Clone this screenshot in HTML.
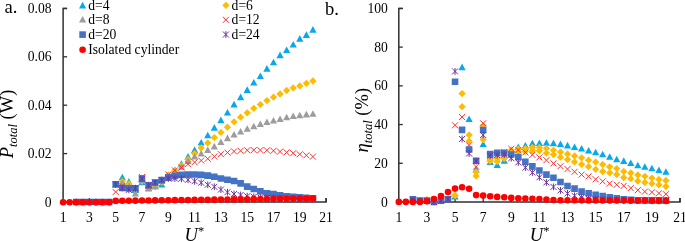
<!DOCTYPE html>
<html><head><meta charset="utf-8"><style>
html,body{margin:0;padding:0;background:#fff;}
body{width:685px;height:241px;overflow:hidden;font-family:"Liberation Serif",serif;}
svg{display:block;}
#w{will-change:transform;width:685px;height:241px;}
</style></head><body><div id="w">
<svg width="685" height="241" viewBox="0 0 685 241">
<path d="M67.10,8.40H63.10V202.00H326.10V198.00" stroke="#303030" stroke-width="1.5" fill="none"/>
<path d="M63.10,153.60H67.10" stroke="#303030" stroke-width="1.3"/>
<path d="M63.10,105.20H67.10" stroke="#303030" stroke-width="1.3"/>
<path d="M63.10,56.80H67.10" stroke="#303030" stroke-width="1.3"/>
<path d="M63.10,8.40H67.10" stroke="#303030" stroke-width="1.3"/>
<path d="M89.40,202.00V198.00" stroke="#303030" stroke-width="1.3"/>
<path d="M115.70,202.00V198.00" stroke="#303030" stroke-width="1.3"/>
<path d="M142.00,202.00V198.00" stroke="#303030" stroke-width="1.3"/>
<path d="M168.30,202.00V198.00" stroke="#303030" stroke-width="1.3"/>
<path d="M194.60,202.00V198.00" stroke="#303030" stroke-width="1.3"/>
<path d="M220.90,202.00V198.00" stroke="#303030" stroke-width="1.3"/>
<path d="M247.20,202.00V198.00" stroke="#303030" stroke-width="1.3"/>
<path d="M273.50,202.00V198.00" stroke="#303030" stroke-width="1.3"/>
<path d="M299.80,202.00V198.00" stroke="#303030" stroke-width="1.3"/>
<path d="M326.10,202.00V198.00" stroke="#303030" stroke-width="1.3"/>
<path d="M402.80,8.40H398.80V202.00H680.00V198.00" stroke="#303030" stroke-width="1.5" fill="none"/>
<path d="M398.80,163.28H402.80" stroke="#303030" stroke-width="1.3"/>
<path d="M398.80,124.56H402.80" stroke="#303030" stroke-width="1.3"/>
<path d="M398.80,85.84H402.80" stroke="#303030" stroke-width="1.3"/>
<path d="M398.80,47.12H402.80" stroke="#303030" stroke-width="1.3"/>
<path d="M398.80,8.40H402.80" stroke="#303030" stroke-width="1.3"/>
<path d="M426.92,202.00V198.00" stroke="#303030" stroke-width="1.3"/>
<path d="M455.04,202.00V198.00" stroke="#303030" stroke-width="1.3"/>
<path d="M483.16,202.00V198.00" stroke="#303030" stroke-width="1.3"/>
<path d="M511.28,202.00V198.00" stroke="#303030" stroke-width="1.3"/>
<path d="M539.40,202.00V198.00" stroke="#303030" stroke-width="1.3"/>
<path d="M567.52,202.00V198.00" stroke="#303030" stroke-width="1.3"/>
<path d="M595.64,202.00V198.00" stroke="#303030" stroke-width="1.3"/>
<path d="M623.76,202.00V198.00" stroke="#303030" stroke-width="1.3"/>
<path d="M651.88,202.00V198.00" stroke="#303030" stroke-width="1.3"/>
<path d="M680.00,202.00V198.00" stroke="#303030" stroke-width="1.3"/>
<path d="M122.28,173.70L125.88,180.30L118.68,180.30ZM128.85,178.10L132.45,184.70L125.25,184.70ZM135.43,186.40L139.03,193.00L131.83,193.00ZM142.00,178.60L145.60,185.20L138.40,185.20ZM148.58,184.40L152.18,191.00L144.98,191.00ZM155.15,182.40L158.75,189.00L151.55,189.00ZM161.72,180.90L165.32,187.50L158.12,187.50ZM168.30,174.40L171.90,181.00L164.70,181.00ZM174.88,166.60L178.47,173.20L171.28,173.20ZM181.45,160.20L185.05,166.80L177.85,166.80ZM188.03,152.90L191.62,159.50L184.43,159.50ZM194.60,146.30L198.20,152.90L191.00,152.90ZM201.18,139.00L204.78,145.60L197.58,145.60ZM207.75,131.70L211.35,138.30L204.15,138.30ZM214.32,124.10L217.92,130.70L210.72,130.70ZM220.90,116.60L224.50,123.20L217.30,123.20ZM227.47,109.00L231.07,115.60L223.88,115.60ZM234.05,100.80L237.65,107.40L230.45,107.40ZM240.62,93.60L244.22,100.20L237.03,100.20ZM247.20,86.30L250.80,92.90L243.60,92.90ZM253.78,79.00L257.38,85.60L250.18,85.60ZM260.35,72.40L263.95,79.00L256.75,79.00ZM266.93,65.10L270.53,71.70L263.32,71.70ZM273.50,58.70L277.10,65.30L269.90,65.30ZM280.07,51.60L283.68,58.20L276.47,58.20ZM286.65,46.40L290.25,53.00L283.05,53.00ZM293.23,40.90L296.83,47.50L289.62,47.50ZM299.80,35.10L303.40,41.70L296.20,41.70ZM306.38,31.30L309.98,37.90L302.77,37.90ZM312.95,26.10L316.55,32.70L309.35,32.70Z" fill="#07a8ee"/>
<path d="M122.28,177.85L125.93,181.50L122.28,185.15L118.62,181.50ZM128.85,180.15L132.50,183.80L128.85,187.45L125.20,183.80ZM135.43,186.35L139.08,190.00L135.43,193.65L131.78,190.00ZM142.00,177.55L145.65,181.20L142.00,184.85L138.35,181.20ZM148.58,184.35L152.23,188.00L148.58,191.65L144.93,188.00ZM155.15,182.85L158.80,186.50L155.15,190.15L151.50,186.50ZM161.72,178.35L165.38,182.00L161.72,185.65L158.07,182.00ZM168.30,171.35L171.95,175.00L168.30,178.65L164.65,175.00ZM174.88,166.85L178.53,170.50L174.88,174.15L171.22,170.50ZM181.45,161.65L185.10,165.30L181.45,168.95L177.80,165.30ZM188.03,155.85L191.68,159.50L188.03,163.15L184.38,159.50ZM194.60,149.95L198.25,153.60L194.60,157.25L190.95,153.60ZM201.18,144.15L204.83,147.80L201.18,151.45L197.53,147.80ZM207.75,139.25L211.40,142.90L207.75,146.55L204.10,142.90ZM214.32,133.95L217.97,137.60L214.32,141.25L210.67,137.60ZM220.90,128.75L224.55,132.40L220.90,136.05L217.25,132.40ZM227.47,123.55L231.12,127.20L227.47,130.85L223.82,127.20ZM234.05,118.15L237.70,121.80L234.05,125.45L230.40,121.80ZM240.62,113.55L244.28,117.20L240.62,120.85L236.97,117.20ZM247.20,109.15L250.85,112.80L247.20,116.45L243.55,112.80ZM253.78,104.65L257.43,108.30L253.78,111.95L250.12,108.30ZM260.35,100.95L264.00,104.60L260.35,108.25L256.70,104.60ZM266.93,96.95L270.57,100.60L266.93,104.25L263.28,100.60ZM273.50,93.55L277.15,97.20L273.50,100.85L269.85,97.20ZM280.07,90.35L283.72,94.00L280.07,97.65L276.43,94.00ZM286.65,86.85L290.30,90.50L286.65,94.15L283.00,90.50ZM293.23,84.25L296.88,87.90L293.23,91.55L289.58,87.90ZM299.80,82.25L303.45,85.90L299.80,89.55L296.15,85.90ZM306.38,79.65L310.02,83.30L306.38,86.95L302.73,83.30ZM312.95,77.35L316.60,81.00L312.95,84.65L309.30,81.00Z" fill="#ffbb00"/>
<path d="M122.28,179.20L125.88,185.80L118.68,185.80ZM128.85,182.40L132.45,189.00L125.25,189.00ZM135.43,190.00L139.03,196.60L131.83,196.60ZM142.00,176.40L145.60,183.00L138.40,183.00ZM148.58,184.90L152.18,191.50L144.98,191.50ZM155.15,182.90L158.75,189.50L151.55,189.50ZM161.72,177.40L165.32,184.00L158.12,184.00ZM168.30,173.40L171.90,180.00L164.70,180.00ZM174.88,167.90L178.47,174.50L171.28,174.50ZM181.45,163.10L185.05,169.70L177.85,169.70ZM188.03,157.30L191.62,163.90L184.43,163.90ZM194.60,152.90L198.20,159.50L191.00,159.50ZM201.18,150.00L204.78,156.60L197.58,156.60ZM207.75,146.30L211.35,152.90L204.15,152.90ZM214.32,142.80L217.92,149.40L210.72,149.40ZM220.90,138.40L224.50,145.00L217.30,145.00ZM227.47,134.60L231.07,141.20L223.88,141.20ZM234.05,130.90L237.65,137.50L230.45,137.50ZM240.62,127.90L244.22,134.50L237.03,134.50ZM247.20,125.20L250.80,131.80L243.60,131.80ZM253.78,122.70L257.38,129.30L250.18,129.30ZM260.35,120.40L263.95,127.00L256.75,127.00ZM266.93,118.40L270.53,125.00L263.32,125.00ZM273.50,116.90L277.10,123.50L269.90,123.50ZM280.07,115.40L283.68,122.00L276.47,122.00ZM286.65,113.70L290.25,120.30L283.05,120.30ZM293.23,112.50L296.83,119.10L289.62,119.10ZM299.80,111.70L303.40,118.30L296.20,118.30ZM306.38,110.80L309.98,117.40L302.77,117.40ZM312.95,110.20L316.55,116.80L309.35,116.80Z" fill="#9d9d9d"/>
<path d="M112.70,189.00L118.70,195.00M118.70,189.00L112.70,195.00M119.28,183.00L125.28,189.00M125.28,183.00L119.28,189.00M125.85,185.00L131.85,191.00M131.85,185.00L125.85,191.00M132.43,186.00L138.43,192.00M138.43,186.00L132.43,192.00M139.00,174.00L145.00,180.00M145.00,174.00L139.00,180.00M145.58,183.00L151.58,189.00M151.58,183.00L145.58,189.00M152.15,180.00L158.15,186.00M158.15,180.00L152.15,186.00M158.72,177.00L164.72,183.00M164.72,177.00L158.72,183.00M165.30,171.50L171.30,177.50M171.30,171.50L165.30,177.50M171.88,167.40L177.88,173.40M177.88,167.40L171.88,173.40M178.45,164.60L184.45,170.60M184.45,164.60L178.45,170.60M185.03,161.20L191.03,167.20M191.03,161.20L185.03,167.20M191.60,159.20L197.60,165.20M197.60,159.20L191.60,165.20M198.18,157.50L204.18,163.50M204.18,157.50L198.18,163.50M204.75,155.70L210.75,161.70M210.75,155.70L204.75,161.70M211.32,153.50L217.32,159.50M217.32,153.50L211.32,159.50M217.90,151.20L223.90,157.20M223.90,151.20L217.90,157.20M224.47,149.60L230.47,155.60M230.47,149.60L224.47,155.60M231.05,148.40L237.05,154.40M237.05,148.40L231.05,154.40M237.62,147.80L243.62,153.80M243.62,147.80L237.62,153.80M244.20,147.30L250.20,153.30M250.20,147.30L244.20,153.30M250.78,147.10L256.77,153.10M256.77,147.10L250.78,153.10M257.35,147.10L263.35,153.10M263.35,147.10L257.35,153.10M263.93,147.30L269.93,153.30M269.93,147.30L263.93,153.30M270.50,147.80L276.50,153.80M276.50,147.80L270.50,153.80M277.07,148.60L283.07,154.60M283.07,148.60L277.07,154.60M283.65,149.40L289.65,155.40M289.65,149.40L283.65,155.40M290.23,150.20L296.23,156.20M296.23,150.20L290.23,156.20M296.80,151.30L302.80,157.30M302.80,151.30L296.80,157.30M303.38,152.30L309.38,158.30M309.38,152.30L303.38,158.30M309.95,153.60L315.95,159.60M315.95,153.60L309.95,159.60" stroke="#ff2d2d" stroke-width="1" fill="none"/>
<path d="M72.95,198.70h6.60v6.60h-6.60ZM79.53,198.70h6.60v6.60h-6.60ZM86.10,198.70h6.60v6.60h-6.60ZM92.67,198.70h6.60v6.60h-6.60ZM99.25,198.70h6.60v6.60h-6.60ZM105.83,198.70h6.60v6.60h-6.60ZM112.40,181.10h6.60v6.60h-6.60ZM118.98,184.70h6.60v6.60h-6.60ZM125.55,184.90h6.60v6.60h-6.60ZM132.12,184.90h6.60v6.60h-6.60ZM138.70,175.30h6.60v6.60h-6.60ZM145.28,182.00h6.60v6.60h-6.60ZM151.85,179.20h6.60v6.60h-6.60ZM158.42,176.70h6.60v6.60h-6.60ZM165.00,173.90h6.60v6.60h-6.60ZM171.57,172.70h6.60v6.60h-6.60ZM178.15,171.60h6.60v6.60h-6.60ZM184.72,171.20h6.60v6.60h-6.60ZM191.30,171.20h6.60v6.60h-6.60ZM197.88,171.60h6.60v6.60h-6.60ZM204.45,172.30h6.60v6.60h-6.60ZM211.02,173.40h6.60v6.60h-6.60ZM217.60,175.20h6.60v6.60h-6.60ZM224.17,176.50h6.60v6.60h-6.60ZM230.75,177.70h6.60v6.60h-6.60ZM237.32,180.10h6.60v6.60h-6.60ZM243.90,183.30h6.60v6.60h-6.60ZM250.47,185.70h6.60v6.60h-6.60ZM257.05,188.00h6.60v6.60h-6.60ZM263.62,189.90h6.60v6.60h-6.60ZM270.20,190.80h6.60v6.60h-6.60ZM276.77,192.10h6.60v6.60h-6.60ZM283.35,193.00h6.60v6.60h-6.60ZM289.93,193.60h6.60v6.60h-6.60ZM296.50,194.10h6.60v6.60h-6.60ZM303.07,194.50h6.60v6.60h-6.60ZM309.65,194.90h6.60v6.60h-6.60Z" fill="#4472c4"/>
<path d="M73.25,199.00L79.25,205.00M79.25,199.00L73.25,205.00M76.25,198.60L76.25,205.40M79.83,199.00L85.83,205.00M85.83,199.00L79.83,205.00M82.83,198.60L82.83,205.40M86.40,199.00L92.40,205.00M92.40,199.00L86.40,205.00M89.40,198.60L89.40,205.40M92.97,199.00L98.97,205.00M98.97,199.00L92.97,205.00M95.97,198.60L95.97,205.40M99.55,199.00L105.55,205.00M105.55,199.00L99.55,205.00M102.55,198.60L102.55,205.40M106.12,199.00L112.12,205.00M112.12,199.00L106.12,205.00M109.12,198.60L109.12,205.40M112.70,181.40L118.70,187.40M118.70,181.40L112.70,187.40M115.70,181.00L115.70,187.80M119.28,185.00L125.28,191.00M125.28,185.00L119.28,191.00M122.28,184.60L122.28,191.40M125.85,186.90L131.85,192.90M131.85,186.90L125.85,192.90M128.85,186.50L128.85,193.30M132.43,185.20L138.43,191.20M138.43,185.20L132.43,191.20M135.43,184.80L135.43,191.60M139.00,175.70L145.00,181.70M145.00,175.70L139.00,181.70M142.00,175.30L142.00,182.10M145.58,182.20L151.58,188.20M151.58,182.20L145.58,188.20M148.58,181.80L148.58,188.60M152.15,179.40L158.15,185.40M158.15,179.40L152.15,185.40M155.15,179.00L155.15,185.80M158.72,177.10L164.72,183.10M164.72,177.10L158.72,183.10M161.72,176.70L161.72,183.50M165.30,175.50L171.30,181.50M171.30,175.50L165.30,181.50M168.30,175.10L168.30,181.90M171.88,175.50L177.88,181.50M177.88,175.50L171.88,181.50M174.88,175.10L174.88,181.90M178.45,175.80L184.45,181.80M184.45,175.80L178.45,181.80M181.45,175.40L181.45,182.20M185.03,176.80L191.03,182.80M191.03,176.80L185.03,182.80M188.03,176.40L188.03,183.20M191.60,178.20L197.60,184.20M197.60,178.20L191.60,184.20M194.60,177.80L194.60,184.60M198.18,179.70L204.18,185.70M204.18,179.70L198.18,185.70M201.18,179.30L201.18,186.10M204.75,181.80L210.75,187.80M210.75,181.80L204.75,187.80M207.75,181.40L207.75,188.20M211.32,183.80L217.32,189.80M217.32,183.80L211.32,189.80M214.32,183.40L214.32,190.20M217.90,186.60L223.90,192.60M223.90,186.60L217.90,192.60M220.90,186.20L220.90,193.00M224.47,189.20L230.47,195.20M230.47,189.20L224.47,195.20M227.47,188.80L227.47,195.60M231.05,191.00L237.05,197.00M237.05,191.00L231.05,197.00M234.05,190.60L234.05,197.40M237.62,192.00L243.62,198.00M243.62,192.00L237.62,198.00M240.62,191.60L240.62,198.40M244.20,193.20L250.20,199.20M250.20,193.20L244.20,199.20M247.20,192.80L247.20,199.60M250.78,193.80L256.77,199.80M256.77,193.80L250.78,199.80M253.78,193.40L253.78,200.20M257.35,194.40L263.35,200.40M263.35,194.40L257.35,200.40M260.35,194.00L260.35,200.80M263.93,194.90L269.93,200.90M269.93,194.90L263.93,200.90M266.93,194.50L266.93,201.30M270.50,195.20L276.50,201.20M276.50,195.20L270.50,201.20M273.50,194.80L273.50,201.60M277.07,195.30L283.07,201.30M283.07,195.30L277.07,201.30M280.07,194.90L280.07,201.70M283.65,195.60L289.65,201.60M289.65,195.60L283.65,201.60M286.65,195.20L286.65,202.00M290.23,195.80L296.23,201.80M296.23,195.80L290.23,201.80M293.23,195.40L293.23,202.20M296.80,196.00L302.80,202.00M302.80,196.00L296.80,202.00M299.80,195.60L299.80,202.40M303.38,196.10L309.38,202.10M309.38,196.10L303.38,202.10M306.38,195.70L306.38,202.50M309.95,196.20L315.95,202.20M315.95,196.20L309.95,202.20M312.95,195.80L312.95,202.60" stroke="#7030a0" stroke-width="1" fill="none"/>
<path d="M59.80,202.20a3.3,3.3 0 1,0 6.60,0a3.3,3.3 0 1,0 -6.60,0ZM66.38,202.20a3.3,3.3 0 1,0 6.60,0a3.3,3.3 0 1,0 -6.60,0ZM72.95,202.20a3.3,3.3 0 1,0 6.60,0a3.3,3.3 0 1,0 -6.60,0ZM79.53,202.20a3.3,3.3 0 1,0 6.60,0a3.3,3.3 0 1,0 -6.60,0ZM86.10,202.20a3.3,3.3 0 1,0 6.60,0a3.3,3.3 0 1,0 -6.60,0ZM92.67,202.20a3.3,3.3 0 1,0 6.60,0a3.3,3.3 0 1,0 -6.60,0ZM99.25,202.20a3.3,3.3 0 1,0 6.60,0a3.3,3.3 0 1,0 -6.60,0ZM105.83,202.20a3.3,3.3 0 1,0 6.60,0a3.3,3.3 0 1,0 -6.60,0ZM112.40,200.90a3.3,3.3 0 1,0 6.60,0a3.3,3.3 0 1,0 -6.60,0ZM118.98,200.82a3.3,3.3 0 1,0 6.60,0a3.3,3.3 0 1,0 -6.60,0ZM125.55,200.73a3.3,3.3 0 1,0 6.60,0a3.3,3.3 0 1,0 -6.60,0ZM132.12,200.65a3.3,3.3 0 1,0 6.60,0a3.3,3.3 0 1,0 -6.60,0ZM138.70,200.57a3.3,3.3 0 1,0 6.60,0a3.3,3.3 0 1,0 -6.60,0ZM145.28,200.48a3.3,3.3 0 1,0 6.60,0a3.3,3.3 0 1,0 -6.60,0ZM151.85,200.40a3.3,3.3 0 1,0 6.60,0a3.3,3.3 0 1,0 -6.60,0ZM158.42,200.32a3.3,3.3 0 1,0 6.60,0a3.3,3.3 0 1,0 -6.60,0ZM165.00,200.23a3.3,3.3 0 1,0 6.60,0a3.3,3.3 0 1,0 -6.60,0ZM171.57,200.15a3.3,3.3 0 1,0 6.60,0a3.3,3.3 0 1,0 -6.60,0ZM178.15,200.07a3.3,3.3 0 1,0 6.60,0a3.3,3.3 0 1,0 -6.60,0ZM184.72,199.98a3.3,3.3 0 1,0 6.60,0a3.3,3.3 0 1,0 -6.60,0ZM191.30,199.90a3.3,3.3 0 1,0 6.60,0a3.3,3.3 0 1,0 -6.60,0ZM197.88,199.82a3.3,3.3 0 1,0 6.60,0a3.3,3.3 0 1,0 -6.60,0ZM204.45,199.73a3.3,3.3 0 1,0 6.60,0a3.3,3.3 0 1,0 -6.60,0ZM211.02,199.65a3.3,3.3 0 1,0 6.60,0a3.3,3.3 0 1,0 -6.60,0ZM217.60,199.57a3.3,3.3 0 1,0 6.60,0a3.3,3.3 0 1,0 -6.60,0ZM224.17,199.48a3.3,3.3 0 1,0 6.60,0a3.3,3.3 0 1,0 -6.60,0ZM230.75,199.40a3.3,3.3 0 1,0 6.60,0a3.3,3.3 0 1,0 -6.60,0ZM237.32,199.32a3.3,3.3 0 1,0 6.60,0a3.3,3.3 0 1,0 -6.60,0ZM243.90,199.23a3.3,3.3 0 1,0 6.60,0a3.3,3.3 0 1,0 -6.60,0ZM250.47,199.15a3.3,3.3 0 1,0 6.60,0a3.3,3.3 0 1,0 -6.60,0ZM257.05,199.07a3.3,3.3 0 1,0 6.60,0a3.3,3.3 0 1,0 -6.60,0ZM263.62,198.98a3.3,3.3 0 1,0 6.60,0a3.3,3.3 0 1,0 -6.60,0ZM270.20,198.90a3.3,3.3 0 1,0 6.60,0a3.3,3.3 0 1,0 -6.60,0ZM276.77,198.82a3.3,3.3 0 1,0 6.60,0a3.3,3.3 0 1,0 -6.60,0ZM283.35,198.73a3.3,3.3 0 1,0 6.60,0a3.3,3.3 0 1,0 -6.60,0ZM289.93,198.65a3.3,3.3 0 1,0 6.60,0a3.3,3.3 0 1,0 -6.60,0ZM296.50,198.57a3.3,3.3 0 1,0 6.60,0a3.3,3.3 0 1,0 -6.60,0ZM303.07,198.48a3.3,3.3 0 1,0 6.60,0a3.3,3.3 0 1,0 -6.60,0ZM309.65,198.40a3.3,3.3 0 1,0 6.60,0a3.3,3.3 0 1,0 -6.60,0Z" fill="#ff0000"/>
<path d="M455.04,192.90L458.64,199.50L451.44,199.50ZM462.07,63.60L465.67,70.20L458.47,70.20ZM469.10,115.50L472.70,122.10L465.50,122.10ZM476.13,165.80L479.73,172.40L472.53,172.40ZM483.16,140.40L486.76,147.00L479.56,147.00ZM490.19,158.40L493.79,165.00L486.59,165.00ZM497.22,161.30L500.82,167.90L493.62,167.90ZM504.25,157.10L507.85,163.70L500.65,163.70ZM511.28,148.40L514.88,155.00L507.68,155.00ZM518.31,143.40L521.91,150.00L514.71,150.00ZM525.34,141.90L528.94,148.50L521.74,148.50ZM532.37,139.70L535.97,146.30L528.77,146.30ZM539.40,139.40L543.00,146.00L535.80,146.00ZM546.43,139.20L550.03,145.80L542.83,145.80ZM553.46,139.60L557.06,146.20L549.86,146.20ZM560.49,140.50L564.09,147.10L556.89,147.10ZM567.52,141.80L571.12,148.40L563.92,148.40ZM574.55,143.50L578.15,150.10L570.95,150.10ZM581.58,144.90L585.18,151.50L577.98,151.50ZM588.61,146.90L592.21,153.50L585.01,153.50ZM595.64,148.70L599.24,155.30L592.04,155.30ZM602.67,150.70L606.27,157.30L599.07,157.30ZM609.70,153.20L613.30,159.80L606.10,159.80ZM616.73,155.70L620.33,162.30L613.13,162.30ZM623.76,157.30L627.36,163.90L620.16,163.90ZM630.79,159.40L634.39,166.00L627.19,166.00ZM637.82,161.70L641.42,168.30L634.22,168.30ZM644.85,163.20L648.45,169.80L641.25,169.80ZM651.88,164.70L655.48,171.30L648.28,171.30ZM658.91,166.50L662.51,173.10L655.31,173.10ZM665.94,168.20L669.54,174.80L662.34,174.80Z" fill="#07a8ee"/>
<path d="M426.92,195.95L430.57,199.60L426.92,203.25L423.27,199.60ZM455.04,191.75L458.69,195.40L455.04,199.05L451.39,195.40ZM462.07,89.95L465.72,93.60L462.07,97.25L458.42,93.60ZM469.10,131.25L472.75,134.90L469.10,138.55L465.45,134.90ZM476.13,168.55L479.78,172.20L476.13,175.85L472.48,172.20ZM483.16,135.95L486.81,139.60L483.16,143.25L479.51,139.60ZM490.19,156.25L493.84,159.90L490.19,163.55L486.54,159.90ZM497.22,154.85L500.87,158.50L497.22,162.15L493.57,158.50ZM504.25,153.75L507.90,157.40L504.25,161.05L500.60,157.40ZM511.28,146.35L514.93,150.00L511.28,153.65L507.63,150.00ZM518.31,145.45L521.96,149.10L518.31,152.75L514.66,149.10ZM525.34,144.95L528.99,148.60L525.34,152.25L521.69,148.60ZM532.37,143.85L536.02,147.50L532.37,151.15L528.72,147.50ZM539.40,143.85L543.05,147.50L539.40,151.15L535.75,147.50ZM546.43,144.75L550.08,148.40L546.43,152.05L542.78,148.40ZM553.46,146.65L557.11,150.30L553.46,153.95L549.81,150.30ZM560.49,148.45L564.14,152.10L560.49,155.75L556.84,152.10ZM567.52,150.35L571.17,154.00L567.52,157.65L563.87,154.00ZM574.55,152.25L578.20,155.90L574.55,159.55L570.90,155.90ZM581.58,154.15L585.23,157.80L581.58,161.45L577.93,157.80ZM588.61,156.55L592.26,160.20L588.61,163.85L584.96,160.20ZM595.64,158.45L599.29,162.10L595.64,165.75L591.99,162.10ZM602.67,160.85L606.32,164.50L602.67,168.15L599.02,164.50ZM609.70,163.15L613.35,166.80L609.70,170.45L606.05,166.80ZM616.73,164.95L620.38,168.60L616.73,172.25L613.08,168.60ZM623.76,167.85L627.41,171.50L623.76,175.15L620.11,171.50ZM630.79,169.35L634.44,173.00L630.79,176.65L627.14,173.00ZM637.82,171.35L641.47,175.00L637.82,178.65L634.17,175.00ZM644.85,172.65L648.50,176.30L644.85,179.95L641.20,176.30ZM651.88,174.45L655.53,178.10L651.88,181.75L648.23,178.10ZM658.91,175.85L662.56,179.50L658.91,183.15L655.26,179.50ZM665.94,176.85L669.59,180.50L665.94,184.15L662.29,180.50Z" fill="#ffbb00"/>
<path d="M455.04,191.75L458.69,195.40L455.04,199.05L451.39,195.40ZM462.07,103.05L465.72,106.70L462.07,110.35L458.42,106.70ZM469.10,137.55L472.75,141.20L469.10,144.85L465.45,141.20ZM476.13,172.35L479.78,176.00L476.13,179.65L472.48,176.00ZM483.16,121.95L486.81,125.60L483.16,129.25L479.51,125.60ZM490.19,157.35L493.84,161.00L490.19,164.65L486.54,161.00ZM497.22,157.85L500.87,161.50L497.22,165.15L493.57,161.50ZM504.25,154.85L507.90,158.50L504.25,162.15L500.60,158.50ZM511.28,148.35L514.93,152.00L511.28,155.65L507.63,152.00ZM518.31,147.95L521.96,151.60L518.31,155.25L514.66,151.60ZM525.34,147.85L528.99,151.50L525.34,155.15L521.69,151.50ZM532.37,147.15L536.02,150.80L532.37,154.45L528.72,150.80ZM539.40,147.15L543.05,150.80L539.40,154.45L535.75,150.80ZM546.43,149.45L550.08,153.10L546.43,156.75L542.78,153.10ZM553.46,150.95L557.11,154.60L553.46,158.25L549.81,154.60ZM560.49,153.55L564.14,157.20L560.49,160.85L556.84,157.20ZM567.52,155.95L571.17,159.60L567.52,163.25L563.87,159.60ZM574.55,158.25L578.20,161.90L574.55,165.55L570.90,161.90ZM581.58,160.65L585.23,164.30L581.58,167.95L577.93,164.30ZM588.61,163.05L592.26,166.70L588.61,170.35L584.96,166.70ZM595.64,165.65L599.29,169.30L595.64,172.95L591.99,169.30ZM602.67,167.85L606.32,171.50L602.67,175.15L599.02,171.50ZM609.70,169.15L613.35,172.80L609.70,176.45L606.05,172.80ZM616.73,170.85L620.38,174.50L616.73,178.15L613.08,174.50ZM623.76,173.95L627.41,177.60L623.76,181.25L620.11,177.60ZM630.79,175.05L634.44,178.70L630.79,182.35L627.14,178.70ZM637.82,177.35L641.47,181.00L637.82,184.65L634.17,181.00ZM644.85,178.85L648.50,182.50L644.85,186.15L641.20,182.50ZM651.88,179.95L655.53,183.60L651.88,187.25L648.23,183.60ZM658.91,181.15L662.56,184.80L658.91,188.45L655.26,184.80ZM665.94,182.85L669.59,186.50L665.94,190.15L662.29,186.50Z" fill="#ffbb00"/>
<path d="M452.04,122.30L458.04,128.30M458.04,122.30L452.04,128.30M459.07,114.00L465.07,120.00M465.07,114.00L459.07,120.00M466.10,142.30L472.10,148.30M472.10,142.30L466.10,148.30M473.13,163.60L479.13,169.60M479.13,163.60L473.13,169.60M480.16,120.30L486.16,126.30M486.16,120.30L480.16,126.30M487.19,152.00L493.19,158.00M493.19,152.00L487.19,158.00M494.22,150.00L500.22,156.00M500.22,150.00L494.22,156.00M501.25,149.00L507.25,155.00M507.25,149.00L501.25,155.00M508.28,145.80L514.28,151.80M514.28,145.80L508.28,151.80M515.31,147.00L521.31,153.00M521.31,147.00L515.31,153.00M522.34,149.40L528.34,155.40M528.34,149.40L522.34,155.40M529.37,151.90L535.37,157.90M535.37,151.90L529.37,157.90M536.40,154.40L542.40,160.40M542.40,154.40L536.40,160.40M543.43,157.20L549.43,163.20M549.43,157.20L543.43,163.20M550.46,160.40L556.46,166.40M556.46,160.40L550.46,166.40M557.49,163.20L563.49,169.20M563.49,163.20L557.49,169.20M564.52,166.00L570.52,172.00M570.52,166.00L564.52,172.00M571.55,168.80L577.55,174.80M577.55,168.80L571.55,174.80M578.58,171.60L584.58,177.60M584.58,171.60L578.58,177.60M585.61,173.40L591.61,179.40M591.61,173.40L585.61,179.40M592.64,176.30L598.64,182.30M598.64,176.30L592.64,182.30M599.67,178.40L605.67,184.40M605.67,178.40L599.67,184.40M606.70,180.60L612.70,186.60M612.70,180.60L606.70,186.60M613.73,181.80L619.73,187.80M619.73,181.80L613.73,187.80M620.76,182.90L626.76,188.90M626.76,182.90L620.76,188.90M627.79,185.10L633.79,191.10M633.79,185.10L627.79,191.10M634.82,187.20L640.82,193.20M640.82,187.20L634.82,193.20M641.85,188.60L647.85,194.60M647.85,188.60L641.85,194.60M648.88,189.30L654.88,195.30M654.88,189.30L648.88,195.30M655.91,190.30L661.91,196.30M661.91,190.30L655.91,196.30M662.94,191.20L668.94,197.20M668.94,191.20L662.94,197.20" stroke="#ff2d2d" stroke-width="1" fill="none"/>
<path d="M409.56,196.10h6.60v6.60h-6.60ZM416.59,197.20h6.60v6.60h-6.60ZM423.62,197.20h6.60v6.60h-6.60ZM430.65,198.70h6.60v6.60h-6.60ZM437.68,197.40h6.60v6.60h-6.60ZM444.71,196.00h6.60v6.60h-6.60ZM451.74,78.40h6.60v6.60h-6.60ZM458.77,126.60h6.60v6.60h-6.60ZM465.80,146.20h6.60v6.60h-6.60ZM472.83,157.40h6.60v6.60h-6.60ZM479.86,126.70h6.60v6.60h-6.60ZM486.89,150.80h6.60v6.60h-6.60ZM493.92,149.60h6.60v6.60h-6.60ZM500.95,149.60h6.60v6.60h-6.60ZM507.98,151.20h6.60v6.60h-6.60ZM515.01,153.70h6.60v6.60h-6.60ZM522.04,158.50h6.60v6.60h-6.60ZM529.07,163.10h6.60v6.60h-6.60ZM536.10,167.20h6.60v6.60h-6.60ZM543.13,171.30h6.60v6.60h-6.60ZM550.16,174.50h6.60v6.60h-6.60ZM557.19,178.70h6.60v6.60h-6.60ZM564.22,182.70h6.60v6.60h-6.60ZM571.25,185.30h6.60v6.60h-6.60ZM578.28,188.30h6.60v6.60h-6.60ZM585.31,189.90h6.60v6.60h-6.60ZM592.34,191.50h6.60v6.60h-6.60ZM599.37,192.70h6.60v6.60h-6.60ZM606.40,193.90h6.60v6.60h-6.60ZM613.43,195.00h6.60v6.60h-6.60ZM620.46,195.90h6.60v6.60h-6.60ZM627.49,196.50h6.60v6.60h-6.60ZM634.52,196.90h6.60v6.60h-6.60ZM641.55,197.00h6.60v6.60h-6.60ZM648.58,197.10h6.60v6.60h-6.60ZM655.61,197.10h6.60v6.60h-6.60ZM662.64,197.20h6.60v6.60h-6.60Z" fill="#4472c4"/>
<path d="M409.86,196.80L415.86,202.80M415.86,196.80L409.86,202.80M412.86,196.40L412.86,203.20M416.89,197.80L422.89,203.80M422.89,197.80L416.89,203.80M419.89,197.40L419.89,204.20M423.92,198.00L429.92,204.00M429.92,198.00L423.92,204.00M426.92,197.60L426.92,204.40M430.95,199.00L436.95,205.00M436.95,199.00L430.95,205.00M433.95,198.60L433.95,205.40M437.98,197.70L443.98,203.70M443.98,197.70L437.98,203.70M440.98,197.30L440.98,204.10M445.01,196.30L451.01,202.30M451.01,196.30L445.01,202.30M448.01,195.90L448.01,202.70M452.04,68.40L458.04,74.40M458.04,68.40L452.04,74.40M455.04,68.00L455.04,74.80M459.07,136.00L465.07,142.00M465.07,136.00L459.07,142.00M462.07,135.60L462.07,142.40M466.10,150.50L472.10,156.50M472.10,150.50L466.10,156.50M469.10,150.10L469.10,156.90M473.13,158.00L479.13,164.00M479.13,158.00L473.13,164.00M476.13,157.60L476.13,164.40M480.16,132.00L486.16,138.00M486.16,132.00L480.16,138.00M483.16,131.60L483.16,138.40M487.19,152.80L493.19,158.80M493.19,152.80L487.19,158.80M490.19,152.40L490.19,159.20M494.22,152.00L500.22,158.00M500.22,152.00L494.22,158.00M497.22,151.60L497.22,158.40M501.25,151.60L507.25,157.60M507.25,151.60L501.25,157.60M504.25,151.20L504.25,158.00M508.28,155.20L514.28,161.20M514.28,155.20L508.28,161.20M511.28,154.80L511.28,161.60M515.31,159.40L521.31,165.40M521.31,159.40L515.31,165.40M518.31,159.00L518.31,165.80M522.34,164.60L528.34,170.60M528.34,164.60L522.34,170.60M525.34,164.20L525.34,171.00M529.37,169.50L535.37,175.50M535.37,169.50L529.37,175.50M532.37,169.10L532.37,175.90M536.40,174.30L542.40,180.30M542.40,174.30L536.40,180.30M539.40,173.90L539.40,180.70M543.43,179.40L549.43,185.40M549.43,179.40L543.43,185.40M546.43,179.00L546.43,185.80M550.46,183.90L556.46,189.90M556.46,183.90L550.46,189.90M553.46,183.50L553.46,190.30M557.49,187.40L563.49,193.40M563.49,187.40L557.49,193.40M560.49,187.00L560.49,193.80M564.52,190.40L570.52,196.40M570.52,190.40L564.52,196.40M567.52,190.00L567.52,196.80M571.55,192.80L577.55,198.80M577.55,192.80L571.55,198.80M574.55,192.40L574.55,199.20M578.58,194.50L584.58,200.50M584.58,194.50L578.58,200.50M581.58,194.10L581.58,200.90M585.61,195.60L591.61,201.60M591.61,195.60L585.61,201.60M588.61,195.20L588.61,202.00M592.64,196.30L598.64,202.30M598.64,196.30L592.64,202.30M595.64,195.90L595.64,202.70M599.67,196.80L605.67,202.80M605.67,196.80L599.67,202.80M602.67,196.40L602.67,203.20M606.70,197.00L612.70,203.00M612.70,197.00L606.70,203.00M609.70,196.60L609.70,203.40M613.73,197.20L619.73,203.20M619.73,197.20L613.73,203.20M616.73,196.80L616.73,203.60M620.76,197.30L626.76,203.30M626.76,197.30L620.76,203.30M623.76,196.90L623.76,203.70M627.79,197.40L633.79,203.40M633.79,197.40L627.79,203.40M630.79,197.00L630.79,203.80M634.82,197.50L640.82,203.50M640.82,197.50L634.82,203.50M637.82,197.10L637.82,203.90M641.85,197.50L647.85,203.50M647.85,197.50L641.85,203.50M644.85,197.10L644.85,203.90M648.88,197.50L654.88,203.50M654.88,197.50L648.88,203.50M651.88,197.10L651.88,203.90M655.91,197.50L661.91,203.50M661.91,197.50L655.91,203.50M658.91,197.10L658.91,203.90M662.94,197.50L668.94,203.50M668.94,197.50L662.94,203.50M665.94,197.10L665.94,203.90" stroke="#7030a0" stroke-width="1" fill="none"/>
<path d="M395.50,201.90a3.3,3.3 0 1,0 6.60,0a3.3,3.3 0 1,0 -6.60,0ZM402.53,201.90a3.3,3.3 0 1,0 6.60,0a3.3,3.3 0 1,0 -6.60,0ZM409.56,201.90a3.3,3.3 0 1,0 6.60,0a3.3,3.3 0 1,0 -6.60,0ZM416.59,201.90a3.3,3.3 0 1,0 6.60,0a3.3,3.3 0 1,0 -6.60,0ZM423.62,201.20a3.3,3.3 0 1,0 6.60,0a3.3,3.3 0 1,0 -6.60,0ZM430.65,199.10a3.3,3.3 0 1,0 6.60,0a3.3,3.3 0 1,0 -6.60,0ZM437.68,196.10a3.3,3.3 0 1,0 6.60,0a3.3,3.3 0 1,0 -6.60,0ZM444.71,192.00a3.3,3.3 0 1,0 6.60,0a3.3,3.3 0 1,0 -6.60,0ZM451.74,188.60a3.3,3.3 0 1,0 6.60,0a3.3,3.3 0 1,0 -6.60,0ZM458.77,187.30a3.3,3.3 0 1,0 6.60,0a3.3,3.3 0 1,0 -6.60,0ZM465.80,188.70a3.3,3.3 0 1,0 6.60,0a3.3,3.3 0 1,0 -6.60,0ZM472.83,195.10a3.3,3.3 0 1,0 6.60,0a3.3,3.3 0 1,0 -6.60,0ZM479.86,195.60a3.3,3.3 0 1,0 6.60,0a3.3,3.3 0 1,0 -6.60,0ZM486.89,196.30a3.3,3.3 0 1,0 6.60,0a3.3,3.3 0 1,0 -6.60,0ZM493.92,196.90a3.3,3.3 0 1,0 6.60,0a3.3,3.3 0 1,0 -6.60,0ZM500.95,197.30a3.3,3.3 0 1,0 6.60,0a3.3,3.3 0 1,0 -6.60,0ZM507.98,197.90a3.3,3.3 0 1,0 6.60,0a3.3,3.3 0 1,0 -6.60,0ZM515.01,198.30a3.3,3.3 0 1,0 6.60,0a3.3,3.3 0 1,0 -6.60,0ZM522.04,198.50a3.3,3.3 0 1,0 6.60,0a3.3,3.3 0 1,0 -6.60,0ZM529.07,198.80a3.3,3.3 0 1,0 6.60,0a3.3,3.3 0 1,0 -6.60,0ZM536.10,199.00a3.3,3.3 0 1,0 6.60,0a3.3,3.3 0 1,0 -6.60,0ZM543.13,199.50a3.3,3.3 0 1,0 6.60,0a3.3,3.3 0 1,0 -6.60,0ZM550.16,200.00a3.3,3.3 0 1,0 6.60,0a3.3,3.3 0 1,0 -6.60,0ZM557.19,200.20a3.3,3.3 0 1,0 6.60,0a3.3,3.3 0 1,0 -6.60,0ZM564.22,200.24a3.3,3.3 0 1,0 6.60,0a3.3,3.3 0 1,0 -6.60,0ZM571.25,200.29a3.3,3.3 0 1,0 6.60,0a3.3,3.3 0 1,0 -6.60,0ZM578.28,200.33a3.3,3.3 0 1,0 6.60,0a3.3,3.3 0 1,0 -6.60,0ZM585.31,200.38a3.3,3.3 0 1,0 6.60,0a3.3,3.3 0 1,0 -6.60,0ZM592.34,200.42a3.3,3.3 0 1,0 6.60,0a3.3,3.3 0 1,0 -6.60,0ZM599.37,200.47a3.3,3.3 0 1,0 6.60,0a3.3,3.3 0 1,0 -6.60,0ZM606.40,200.51a3.3,3.3 0 1,0 6.60,0a3.3,3.3 0 1,0 -6.60,0ZM613.43,200.56a3.3,3.3 0 1,0 6.60,0a3.3,3.3 0 1,0 -6.60,0ZM620.46,200.60a3.3,3.3 0 1,0 6.60,0a3.3,3.3 0 1,0 -6.60,0ZM627.49,200.65a3.3,3.3 0 1,0 6.60,0a3.3,3.3 0 1,0 -6.60,0ZM634.52,200.69a3.3,3.3 0 1,0 6.60,0a3.3,3.3 0 1,0 -6.60,0ZM641.55,200.74a3.3,3.3 0 1,0 6.60,0a3.3,3.3 0 1,0 -6.60,0ZM648.58,200.78a3.3,3.3 0 1,0 6.60,0a3.3,3.3 0 1,0 -6.60,0ZM655.61,200.83a3.3,3.3 0 1,0 6.60,0a3.3,3.3 0 1,0 -6.60,0ZM662.64,200.88a3.3,3.3 0 1,0 6.60,0a3.3,3.3 0 1,0 -6.60,0Z" fill="#ff0000"/>
<path d="M82.60,1.80L86.20,8.40L79.00,8.40Z" fill="#07a8ee"/>
<path d="M82.60,16.00L86.20,22.60L79.00,22.60Z" fill="#9d9d9d"/>
<path d="M79.30,31.30h6.60v6.60h-6.60Z" fill="#4472c4"/>
<path d="M79.30,49.70a3.3,3.3 0 1,0 6.60,0a3.3,3.3 0 1,0 -6.60,0Z" fill="#ff0000"/>
<path d="M225.90,1.65L229.55,5.30L225.90,8.95L222.25,5.30Z" fill="#ffbb00"/>
<path d="M222.90,16.80L228.90,22.80M228.90,16.80L222.90,22.80" stroke="#ff2d2d" stroke-width="1" fill="none"/>
<path d="M222.90,31.50L228.90,37.50M228.90,31.50L222.90,37.50M225.90,31.10L225.90,37.90" stroke="#7030a0" stroke-width="1" fill="none"/>
<g font-family="Liberation Serif" fill="#000"><text x="51.60" y="206.60" text-anchor="end" font-size="13.6" >0</text>
<text x="51.60" y="158.20" text-anchor="end" font-size="13.6" >0.02</text>
<text x="51.60" y="109.80" text-anchor="end" font-size="13.6" >0.04</text>
<text x="51.60" y="61.40" text-anchor="end" font-size="13.6" >0.06</text>
<text x="51.60" y="13.00" text-anchor="end" font-size="13.6" >0.08</text>
<text x="387.80" y="206.60" text-anchor="end" font-size="13.6" >0</text>
<text x="387.80" y="167.88" text-anchor="end" font-size="13.6" >20</text>
<text x="387.80" y="129.16" text-anchor="end" font-size="13.6" >40</text>
<text x="387.80" y="90.44" text-anchor="end" font-size="13.6" >60</text>
<text x="387.80" y="51.72" text-anchor="end" font-size="13.6" >80</text>
<text x="387.80" y="13.00" text-anchor="end" font-size="13.6" >100</text>
<text x="63.10" y="222.30" text-anchor="middle" font-size="13.6" >1</text>
<text x="398.80" y="222.30" text-anchor="middle" font-size="13.6" >1</text>
<text x="89.40" y="222.30" text-anchor="middle" font-size="13.6" >3</text>
<text x="426.92" y="222.30" text-anchor="middle" font-size="13.6" >3</text>
<text x="115.70" y="222.30" text-anchor="middle" font-size="13.6" >5</text>
<text x="455.04" y="222.30" text-anchor="middle" font-size="13.6" >5</text>
<text x="142.00" y="222.30" text-anchor="middle" font-size="13.6" >7</text>
<text x="483.16" y="222.30" text-anchor="middle" font-size="13.6" >7</text>
<text x="168.30" y="222.30" text-anchor="middle" font-size="13.6" >9</text>
<text x="511.28" y="222.30" text-anchor="middle" font-size="13.6" >9</text>
<text x="194.60" y="222.30" text-anchor="middle" font-size="13.6" >11</text>
<text x="539.40" y="222.30" text-anchor="middle" font-size="13.6" >11</text>
<text x="220.90" y="222.30" text-anchor="middle" font-size="13.6" >13</text>
<text x="567.52" y="222.30" text-anchor="middle" font-size="13.6" >13</text>
<text x="247.20" y="222.30" text-anchor="middle" font-size="13.6" >15</text>
<text x="595.64" y="222.30" text-anchor="middle" font-size="13.6" >15</text>
<text x="273.50" y="222.30" text-anchor="middle" font-size="13.6" >17</text>
<text x="623.76" y="222.30" text-anchor="middle" font-size="13.6" >17</text>
<text x="299.80" y="222.30" text-anchor="middle" font-size="13.6" >19</text>
<text x="651.88" y="222.30" text-anchor="middle" font-size="13.6" >19</text>
<text x="326.10" y="222.30" text-anchor="middle" font-size="13.6" >21</text>
<text x="680.00" y="222.30" text-anchor="middle" font-size="13.6" >21</text>
<text x="88.20" y="9.80" text-anchor="start" font-size="13.6" >d=4</text>
<text x="88.20" y="24.30" text-anchor="start" font-size="13.6" >d=8</text>
<text x="88.20" y="39.20" text-anchor="start" font-size="13.6" >d=20</text>
<text x="88.20" y="54.00" text-anchor="start" font-size="13.6" >Isolated cylinder</text>
<text x="231.60" y="9.80" text-anchor="start" font-size="13.6" >d=6</text>
<text x="231.60" y="24.30" text-anchor="start" font-size="13.6" >d=12</text>
<text x="231.60" y="39.20" text-anchor="start" font-size="13.6" >d=24</text>
<text x="4.60" y="12.80" text-anchor="start" font-size="18.5" >a.</text>
<text x="325.00" y="14.90" text-anchor="start" font-size="18.5" >b.</text>
<text x="184.50" y="240.50" text-anchor="start" font-size="18.5" ><tspan font-style="italic">U</tspan><tspan dy="-5.5" font-size="12.5">*</tspan></text>
<text x="529.80" y="240.50" text-anchor="start" font-size="18.5" ><tspan font-style="italic">U</tspan><tspan dy="-5.5" font-size="12.5">*</tspan></text>
<text transform="translate(13.2,158.3) rotate(-90)" font-size="18.5"><tspan font-style="italic">P</tspan><tspan font-style="italic" font-size="12.5" dy="4">total</tspan><tspan dy="-4"> (W)</tspan></text>
<text transform="translate(367.5,152.4) rotate(-90)" font-size="18.5"><tspan font-style="italic">η</tspan><tspan font-style="italic" font-size="12.5" dy="4">total</tspan><tspan dy="-4"> (%)</tspan></text></g>
</svg></div>
</body></html>
